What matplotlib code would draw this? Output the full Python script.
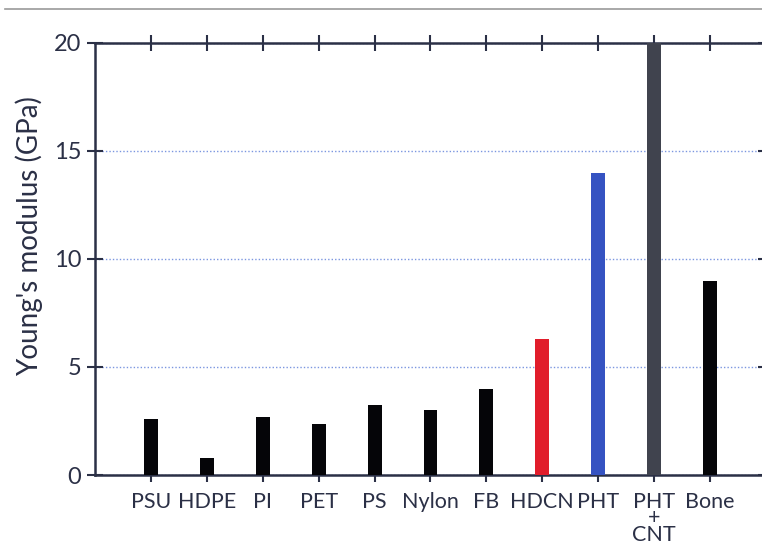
import matplotlib
matplotlib.use('Agg')
import matplotlib.pyplot as plt
from matplotlib.lines import Line2D

plt.rcParams['font.family'] = ['Lato', 'DejaVu Sans']

materials = ['PSU', 'HDPE', 'PI', 'PET', 'PS', 'Nylon', 'FB', 'HDCN', 'PHT', 'PHT\n+\nCNT', 'Bone']
modulus = [2.6, 0.8, 2.7, 2.35, 3.25, 3.0, 4.0, 6.3, 14.0, 20.0, 9.0]
colors = ['#050508', '#050508', '#050508', '#050508', '#050508', '#050508', '#050508',
          '#e11d2b', '#3553c2', '#40434e', '#050508']
yticks = [0, 5, 10, 15, 20]

ink = '#2b3046'

fig = plt.figure(figsize=(7.62, 5.48), dpi=100)
ax = fig.add_axes([95/762, 1 - 475/548, 671/762, (475-43)/548])

xpos = list(range(len(materials)))
ax.bar(xpos, modulus, width=0.25, color=colors, zorder=3)

ax.set_xlim(-1, 11)
ax.set_ylim(0, 20)
ax.set_yticks(yticks)
ax.set_xticks(xpos)
ax.set_xticklabels(materials, fontsize=15.5, color=ink, linespacing=0.78)
ax.tick_params(axis='y', labelsize=17, colors=ink, direction='inout', length=12, width=1.5, pad=4,
               right=True)
ax.tick_params(axis='x', colors=ink, direction='out', length=5, width=1.5, pad=7,
               top=True)
for t in ax.xaxis.get_major_ticks():
    t.tick2line.set_markersize(12)
    t.tick2line.set_marker('|')

ax.set_ylabel("Young's modulus (GPa)", fontsize=20, color=ink)
ax.yaxis.set_label_coords(-0.077, 0.553)
ax.yaxis.grid(True, linestyle=(0, (1, 1.5)), color='#7b96e0', linewidth=1, zorder=1)

for s in ax.spines.values():
    s.set_color(ink)
    s.set_linewidth(1.8)

fig.add_artist(Line2D([5/762, 1], [1 - 9/548, 1 - 9/548], color='#9a9a9a', linewidth=1.2))

fig.savefig('out.png', dpi=100)
